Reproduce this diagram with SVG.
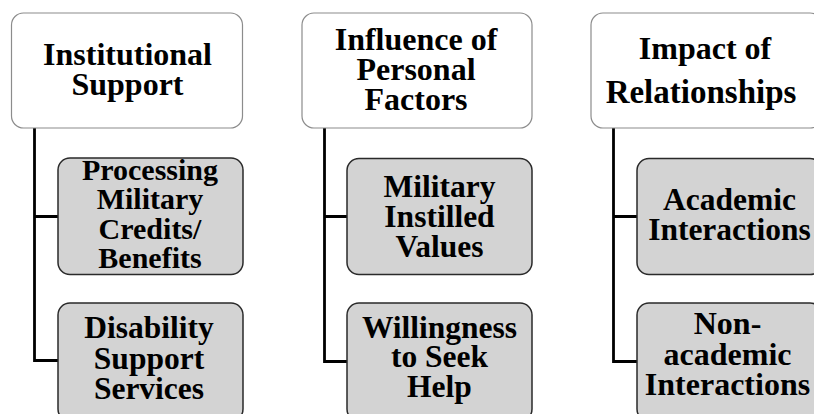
<svg xmlns="http://www.w3.org/2000/svg" width="814" height="414" viewBox="0 0 814 414">
  <style>
    .head { fill: #ffffff; stroke: #8c8c8c; stroke-width: 1.2; }
    .sub { fill: #d3d3d3; stroke: #2a2a2a; stroke-width: 1.5; }
    .link { fill: none; stroke: #000000; stroke-width: 2.8; }
    text { font-family: "Liberation Serif", "Times New Roman", serif; font-weight: bold; fill: #000000; text-anchor: middle; }
    .t33 { font-size: 33px; }
    .t32 { font-size: 32px; }
    .t31 { font-size: 31.5px; }
    .t30 { font-size: 30px; }
  </style>

  <!-- connectors -->
  <g id="connectors">
    <path class="link" d="M34.5 128 V360.5 H58 M34.5 216.5 H58"/>
    <path class="link" d="M324.5 128 V361.5 H347 M324.5 216.5 H347"/>
    <path class="link" d="M613.5 128 V361.5 H637 M613.5 216.5 H637"/>
  </g>

  <!-- column 1 -->
  <g id="institutional-support">
    <rect class="head" x="11.5" y="13" width="231" height="115" rx="12"/>
    <text class="t32" x="127.5" y="65">Institutional</text>
    <text class="t32" x="127.5" y="95">Support</text>
  </g>
  <g id="processing-military-credits">
    <rect class="sub" x="58" y="158" width="185" height="116.5" rx="12"/>
    <text class="t30" x="150" y="179.5">Processing</text>
    <text class="t30" x="150" y="209">Military</text>
    <text class="t30" x="150" y="238.5">Credits/</text>
    <text class="t30" x="150" y="268">Benefits</text>
  </g>
  <g id="disability-support-services">
    <rect class="sub" x="58" y="303" width="185" height="118" rx="12"/>
    <text class="t31" x="149" y="338">Disability</text>
    <text class="t31" x="149" y="369">Support</text>
    <text class="t31" x="149" y="399">Services</text>
  </g>

  <!-- column 2 -->
  <g id="influence-personal-factors">
    <rect class="head" x="302" y="13" width="230" height="115" rx="12"/>
    <text class="t32" x="416" y="50">Influence of</text>
    <text class="t32" x="416" y="80">Personal</text>
    <text class="t32" x="416" y="110">Factors</text>
  </g>
  <g id="military-instilled-values">
    <rect class="sub" x="347" y="158.5" width="185" height="116" rx="12"/>
    <text class="t31" x="439.5" y="197">Military</text>
    <text class="t31" x="439.5" y="227">Instilled</text>
    <text class="t31" x="439.5" y="257">Values</text>
  </g>
  <g id="willingness-seek-help">
    <rect class="sub" x="347" y="303" width="185" height="118" rx="12"/>
    <text class="t31" x="439.5" y="338">Willingness</text>
    <text class="t31" x="439.5" y="367">to Seek</text>
    <text class="t31" x="439.5" y="397">Help</text>
  </g>

  <!-- column 3 -->
  <g id="impact-relationships">
    <rect class="head" x="591" y="13" width="231" height="115" rx="12"/>
    <text class="t32" x="705" y="59">Impact of</text>
    <text class="t33" x="701" y="103">Relationships</text>
  </g>
  <g id="academic-interactions">
    <rect class="sub" x="637" y="158.5" width="185" height="116" rx="12"/>
    <text class="t31" x="729.5" y="210">Academic</text>
    <text class="t31" x="729.5" y="240">Interactions</text>
  </g>
  <g id="non-academic-interactions">
    <rect class="sub" x="637" y="303" width="185" height="118" rx="12"/>
    <text class="t32" x="727.5" y="334">Non-</text>
    <text class="t32" x="727.5" y="365">academic</text>
    <text class="t32" x="727.5" y="395">Interactions</text>
  </g>
</svg>
